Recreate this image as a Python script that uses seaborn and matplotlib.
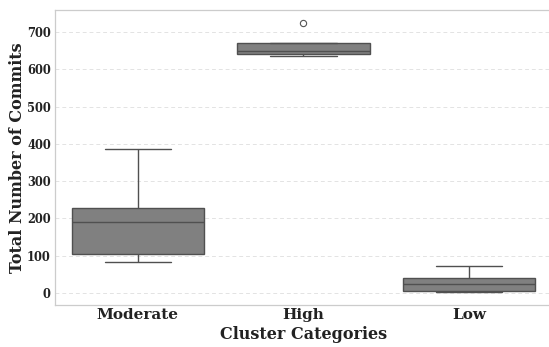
import matplotlib
matplotlib.use("Agg")
import matplotlib.pyplot as plt
import seaborn as sns
import pandas as pd

# Commit counts per repository, grouped by cluster
categories = ["Moderate", "High", "Low"]
moderate_commits = [83, 105, 189, 228, 385]
high_commits = [637, 641, 649, 672, 725]
low_commits = [3, 5, 23, 39, 72]
y_ticks = [0, 100, 200, 300, 400, 500, 600, 700]

df = pd.DataFrame({
    "cluster": (["Moderate"] * len(moderate_commits)
                + ["High"] * len(high_commits)
                + ["Low"] * len(low_commits)),
    "commits": moderate_commits + high_commits + low_commits,
})

sns.set_style("white")
plt.rcParams["font.family"] = ["DejaVu Serif"]
plt.rcParams["font.weight"] = "bold"

fig = plt.figure(figsize=(5.49, 3.47), dpi=100)
ax = fig.add_axes([0.1002, 0.121, 0.905, 0.8516])

sns.boxplot(
    data=df, x="cluster", y="commits", order=categories, ax=ax,
    color="#808080", saturation=1, linecolor="#505050", linewidth=1.0,
    width=0.8, fliersize=4.5,
    flierprops=dict(marker="o", markerfacecolor="none",
                    markeredgecolor="#555555", markeredgewidth=0.8),
)

ax.set_ylim(-33, 761)
ax.set_xlim(-0.5, 2.5)
ax.set_yticks(y_ticks)
ax.yaxis.grid(True, linestyle=(0, (4, 3)), color="#e3e3e3", linewidth=0.7)
ax.set_axisbelow(True)
for s in ax.spines.values():
    s.set_color("#cccccc")
    s.set_linewidth(0.9)

ax.tick_params(axis="both", length=0)
ax.tick_params(axis="y", pad=3, labelsize=8.3, colors="#222222")
ax.tick_params(axis="x", pad=2.5, labelsize=11, colors="#222222")
for lbl in ax.get_xticklabels() + ax.get_yticklabels():
    lbl.set_fontweight("bold")

ax.set_xlabel("Cluster Categories", fontsize=11.5, fontweight="bold",
              color="#222222", labelpad=2.5)
ax.set_ylabel("Total Number of Commits", fontsize=11.5, fontweight="bold",
              color="#222222", labelpad=1)

fig.savefig("out.png", dpi=100)
